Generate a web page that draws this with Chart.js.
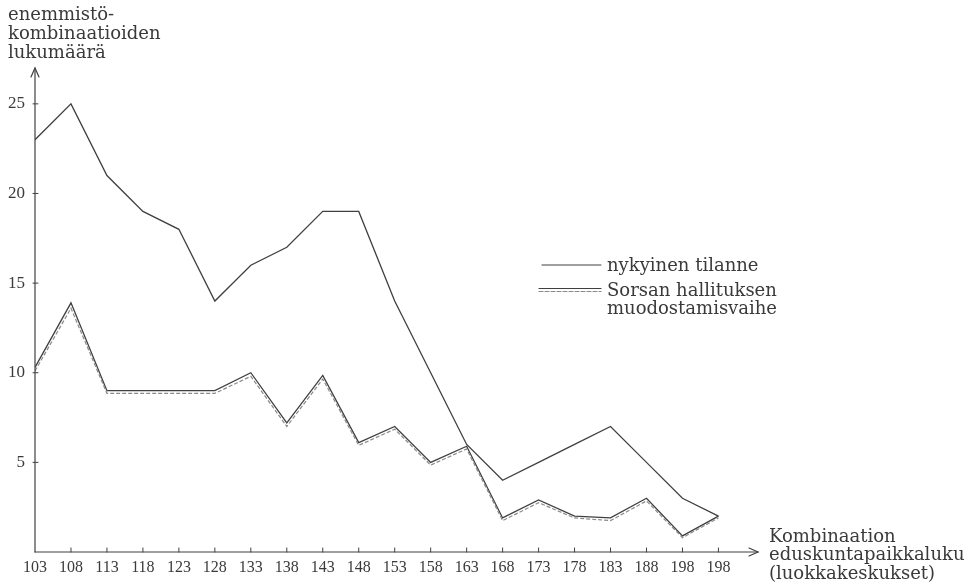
<!DOCTYPE html>
<html>
<head>
<meta charset="utf-8">
<script src="https://cdn.jsdelivr.net/npm/chart.js@4/dist/chart.umd.min.js"></script>
<style>
html,body{margin:0;padding:0;background:#fff;}
#wrap{width:970px;height:583px;position:relative;}
</style>
</head>
<body>
<div id="wrap"><canvas id="c" width="970" height="583"></canvas></div>
<script>
const categories = ['103','108','113','118','123','128','133','138','143','148','153','158','163','168','173','178','183','188','198','198'];
const nykyinen = [23,25,21,19,18,14,16,17,19,19,14,10,6,4,5,6,7,5,3,2];
const sorsa = [10.3,13.9,9,9,9,9,10,7.2,9.85,6.1,7,5,5.9,1.9,2.9,2,1.9,3,0.9,2];
const sorsaDashed = [10.1,13.6,8.85,8.85,8.85,8.85,9.8,7.0,9.65,5.95,6.85,4.85,5.75,1.75,2.75,1.9,1.75,2.85,0.8,1.9];
const yTicks = [5,10,15,20,25];
const yTitle = ['enemmistö-','kombinaatioiden','lukumäärä'];
const xTitle = ['Kombinaation','eduskuntapaikkaluku','(luokkakeskukset)'];
const legendLabels = [['nykyinen tilanne'],['Sorsan hallituksen','muodostamisvaihe']];

const INK = '#404040';
const TEXT = '#3a3a3a';
const SERIF = '"DejaVu Serif", serif';
const TICKFONT = '"Liberation Serif", serif';

const toXY = arr => arr.map((v,i)=>({x:i,y:v}));

const decor = {
  id:'decor',
  afterDraw(chart){
    const {ctx, scales:{x,y}} = chart;
    const x0 = x.getPixelForValue(0), y0 = y.getPixelForValue(0);
    const yTop = y.top, xEnd = x.right;
    ctx.save();
    ctx.strokeStyle = INK; ctx.lineWidth = 1.2; ctx.lineCap='round';
    // y axis with arrow
    ctx.beginPath(); ctx.moveTo(x0,y0); ctx.lineTo(x0,yTop); ctx.stroke();
    ctx.beginPath(); ctx.moveTo(x0-4,yTop+9); ctx.lineTo(x0,yTop); ctx.lineTo(x0+4,yTop+9); ctx.stroke();
    // x axis with arrow
    ctx.beginPath(); ctx.moveTo(x0,y0); ctx.lineTo(xEnd,y0); ctx.stroke();
    ctx.beginPath(); ctx.moveTo(xEnd-9,y0-4); ctx.lineTo(xEnd,y0); ctx.lineTo(xEnd-9,y0+4); ctx.stroke();
    // tick marks
    ctx.lineWidth = 1;
    yTicks.forEach(v=>{const py=y.getPixelForValue(v); ctx.beginPath(); ctx.moveTo(x0-2,py); ctx.lineTo(x0+3,py); ctx.stroke();});
    categories.forEach((c,i)=>{ if(i===0) return; const px=x.getPixelForValue(i); ctx.beginPath(); ctx.moveTo(px,y0); ctx.lineTo(px,y0-4); ctx.stroke();});
    // texts
    ctx.fillStyle = TEXT; ctx.font = '18px '+SERIF; ctx.textBaseline='middle'; ctx.textAlign='left';
    yTitle.forEach((t,i)=>ctx.fillText(t, 8, 15+i*19));
    xTitle.forEach((t,i)=>ctx.fillText(t, xEnd+11, 537+i*18.5));
    // legend
    ctx.strokeStyle = INK; ctx.lineWidth = 1.2; ctx.setLineDash([]);
    ctx.beginPath(); ctx.moveTo(542,265); ctx.lineTo(601,265); ctx.stroke();
    ctx.beginPath(); ctx.moveTo(539,288.5); ctx.lineTo(601,288.5); ctx.stroke();
    ctx.strokeStyle = '#8a8a8a'; ctx.setLineDash([4,2]);
    ctx.beginPath(); ctx.moveTo(539,291.5); ctx.lineTo(601,291.5); ctx.stroke();
    ctx.setLineDash([]);
    ctx.fillText(legendLabels[0][0], 607, 266);
    ctx.fillText(legendLabels[1][0], 607, 291);
    ctx.fillText(legendLabels[1][1], 607, 309);
    ctx.restore();
  }
};

new Chart(document.getElementById('c'), {
  type:'line',
  data:{
    datasets:[
      {label:'Sorsan hallituksen muodostamisvaihe (katkoviiva)', data:toXY(sorsaDashed), borderColor:'#8a8a8a', borderWidth:1.2, borderDash:[4,2], pointRadius:0, tension:0, fill:false},
      {label:'Sorsan hallituksen muodostamisvaihe', data:toXY(sorsa), borderColor:INK, borderWidth:1.3, pointRadius:0, tension:0, fill:false},
      {label:'nykyinen tilanne', data:toXY(nykyinen), borderColor:INK, borderWidth:1.3, pointRadius:0, tension:0, fill:false}
    ]
  },
  options:{
    responsive:false, animation:false,
    layout:{padding:{top:68,right:212,left:0,bottom:0}},
    plugins:{legend:{display:false}, tooltip:{enabled:false}},
    scales:{
      x:{type:'linear', min:0, max:20.1,
         border:{display:false}, grid:{display:false, drawTicks:false},
         afterBuildTicks:s=>{s.ticks = categories.map((c,i)=>({value:i}));},
         afterFit:s=>{s.height = 31;},
         ticks:{autoSkip:false, maxRotation:0, padding:6, color:TEXT, font:{family:TICKFONT, size:16},
                callback:v=> (Number.isInteger(v) && v < categories.length) ? categories[v] : ''}},
      y:{type:'linear', min:0, max:27,
         border:{display:false}, grid:{display:false, drawTicks:false},
         afterBuildTicks:s=>{s.ticks = yTicks.map(v=>({value:v}));},
         afterFit:s=>{s.width = 35;},
         ticks:{padding:10, color:TEXT, font:{family:TICKFONT, size:17},
                callback:v=> yTicks.includes(v) ? String(v) : ''}}
    }
  },
  plugins:[decor]
});
</script>
</body>
</html>
